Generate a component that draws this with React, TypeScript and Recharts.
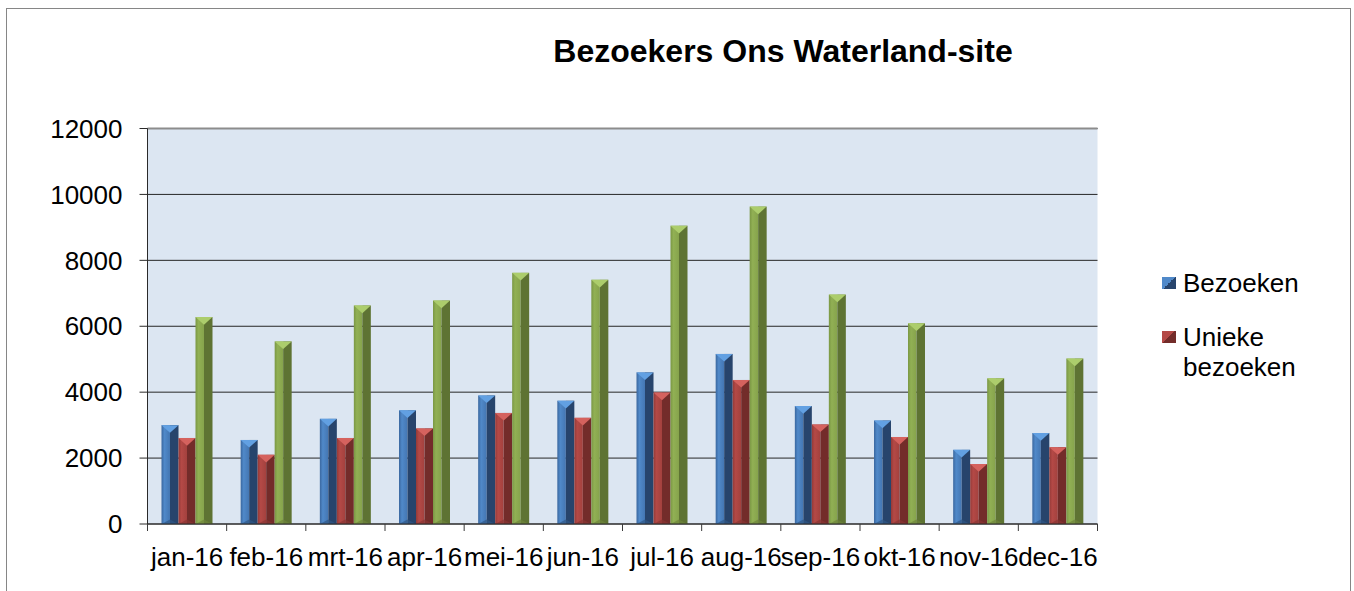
import React from "react";
import {
    Bar,
    BarChart,
    CartesianGrid,
    ReferenceLine,
    XAxis,
    YAxis,
} from "recharts";

const MONTHS = [
    "jan-16", "feb-16", "mrt-16", "apr-16", "mei-16", "jun-16",
    "jul-16", "aug-16", "sep-16", "okt-16", "nov-16", "dec-16",
];
const VISITS = [3000, 2550, 3190, 3450, 3900, 3740, 4600, 5160, 3580, 3140, 2250, 2760];
const UNIQUE_VISITS = [2610, 2100, 2610, 2900, 3370, 3220, 3990, 4370, 3020, 2640, 1820, 2330];
const PAGEVIEWS = [6280, 5540, 6630, 6780, 7620, 7410, 9050, 9630, 6960, 6090, 4420, 5020];
const Y_TICKS = [0, 2000, 4000, 6000, 8000, 10000, 12000];

const TITLE = "Bezoekers Ons Waterland-site";
const FONT = '"Liberation Sans", Arial, sans-serif';

interface Tone {
    faceFrom: string;
    faceMid: string;
    faceTo: string;
    dark: string;
    top: string;
    bottom: string;
}

const TONES: Record<string, Tone> = {
    blue: { faceFrom: "#3a679f", faceMid: "#5089c9", faceTo: "#4476b2", dark: "#27446c", top: "#62a0e2", bottom: "#2f5786" },
    red: { faceFrom: "#943a38", faceMid: "#b44946", faceTo: "#a3413e", dark: "#732c2a", top: "#d5625e", bottom: "#8a3533" },
    green: { faceFrom: "#7a9744", faceMid: "#91b054", faceTo: "#86a34c", dark: "#5e7333", top: "#accd6c", bottom: "#6d853b" },
};

const SERIES = [
    { key: "visits", name: "Bezoeken", tone: "blue", legend: true },
    { key: "unique", name: "Unieke bezoeken", tone: "red", legend: true },
    { key: "pageviews", name: "Paginaweergaven", tone: "green", legend: false },
];

const data = MONTHS.map((month, i) => ({
    month,
    visits: VISITS[i],
    unique: UNIQUE_VISITS[i],
    pageviews: PAGEVIEWS[i],
}));

const CHART_W = 1343;
const CHART_H = 582;
// half-pixel offsets keep the 1px grid and axis lines crisp
const MARGIN = { top: 119.5, right: 252.5, bottom: 0, left: 0.5 };

function BevelBar(props: any) {
    const { x, y, width, height, toneKey } = props;
    if (!height || height <= 0) return null;
    const tone = TONES[toneKey];
    const w = width;
    const h = height;
    const faceW = w * 0.5;
    const t = Math.min(w * 0.45, h / 2);
    return (
        <g>
            <rect x={x} y={y} width={faceW} height={h} fill={`url(#face-${toneKey})`} />
            <rect x={x + faceW} y={y} width={w - faceW} height={h} fill={tone.dark} />
            <polygon points={`${x},${y} ${x + w},${y} ${x + w / 2},${y + t}`} fill={tone.top} />
            <polygon
                points={`${x},${y + h} ${x + w},${y + h} ${x + w / 2},${y + h - t * 0.6}`}
                fill={tone.bottom}
                opacity={0.7}
            />
        </g>
    );
}

function MonthTick(props: any) {
    const { x, y, payload, index } = props;
    const half = payload?.offset ?? 950 / MONTHS.length / 2;
    return (
        <g>
            <line x1={x - half} y1={y} x2={x - half} y2={y + 7} stroke="#3a3a3a" />
            {index === MONTHS.length - 1 && (
                <line x1={x + half} y1={y} x2={x + half} y2={y + 7} stroke="#3a3a3a" />
            )}
            <text x={x} y={y + 42} textAnchor="middle" fontSize={26} fill="#000" fontFamily={FONT}>
                {payload.value}
            </text>
        </g>
    );
}

function LegendSwatch({ toneKey }: { toneKey: string }) {
    const tone = TONES[toneKey];
    return (
        <div
            style={{
                width: 14,
                height: 12,
                marginTop: 9,
                marginRight: 7,
                flexShrink: 0,
                background: `linear-gradient(135deg, ${tone.faceMid} 50%, ${tone.dark} 50%)`,
            }}
        />
    );
}

export default function App() {
    return (
        <div
            style={{
                position: "absolute",
                left: 6,
                top: 8,
                width: CHART_W,
                height: 583,
                border: "1px solid #868686",
                borderBottom: "none",
                background: "#fff",
                fontFamily: FONT,
                overflow: "hidden",
            }}
        >
            <div
                style={{
                    position: "absolute",
                    left: 476,
                    top: 26,
                    width: 600,
                    textAlign: "center",
                    fontSize: 32,
                    lineHeight: "32px",
                    fontWeight: "bold",
                    color: "#000",
                }}
            >
                {TITLE}
            </div>

            <div style={{ position: "absolute", left: 1155, top: 259, width: 160 }}>
                {SERIES.filter((s) => s.legend).map((s, i) => (
                    <div
                        key={s.key}
                        style={{
                            display: "flex",
                            alignItems: "flex-start",
                            marginTop: i === 0 ? 0 : 24,
                            fontSize: 26,
                            lineHeight: "30px",
                            color: "#000",
                        }}
                    >
                        <LegendSwatch toneKey={s.tone} />
                        <div style={{ width: 130 }}>{s.name}</div>
                    </div>
                ))}
            </div>

            <BarChart
                width={CHART_W}
                height={CHART_H}
                data={data}
                margin={MARGIN}
                barGap={0}
                barSize={17}
            >
                <defs>
                    {Object.entries(TONES).map(([k, tone]) => (
                        <linearGradient key={k} id={`face-${k}`} x1="0" y1="0" x2="1" y2="0">
                            <stop offset="0%" stopColor={tone.faceFrom} />
                            <stop offset="35%" stopColor={tone.faceMid} />
                            <stop offset="100%" stopColor={tone.faceTo} />
                        </linearGradient>
                    ))}
                </defs>
                <CartesianGrid vertical={false} fill="#dce6f2" stroke="#262626" strokeOpacity={1} />
                <XAxis
                    dataKey="month"
                    interval={0}
                    tickLine={false}
                    tickSize={0}
                    tickMargin={0}
                    height={67}
                    axisLine={{ stroke: "#2a2a2a" }}
                    tick={<MonthTick />}
                />
                <YAxis
                    domain={[0, 12000]}
                    ticks={Y_TICKS}
                    interval={0}
                    width={140}
                    tickSize={8}
                    tickMargin={17}
                    axisLine={{ stroke: "#2a2a2a" }}
                    tickLine={{ stroke: "#2a2a2a" }}
                    tick={{ fontSize: 26, fill: "#000", fontFamily: FONT }}
                />
                <YAxis
                    yAxisId="right"
                    orientation="right"
                    domain={[0, 12000]}
                    width={0}
                    tick={false}
                    tickLine={false}
                    axisLine={{ stroke: "#8c8c8c", strokeWidth: 2 }}
                />
                {SERIES.map((s) => (
                    <Bar
                        key={s.key}
                        dataKey={s.key}
                        name={s.name}
                        isAnimationActive={false}
                        shape={(p: any) => <BevelBar {...p} toneKey={s.tone} />}
                    />
                ))}
                <ReferenceLine y={12000} stroke="#8c8c8c" strokeWidth={2} />
            </BarChart>
        </div>
    );
}
